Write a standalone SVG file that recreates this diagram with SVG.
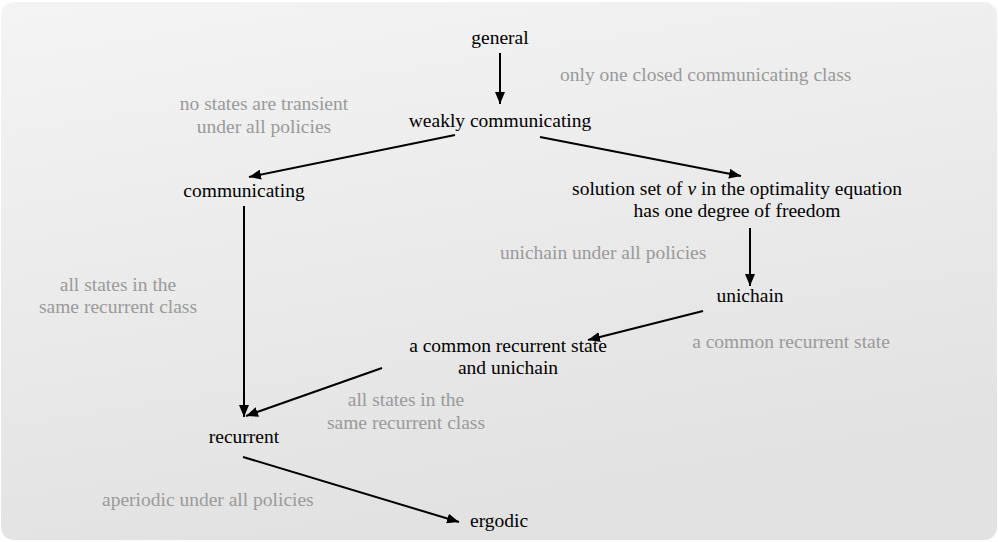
<svg xmlns="http://www.w3.org/2000/svg" width="998" height="542" viewBox="0 0 998 542" font-family="'Liberation Serif', 'Times New Roman', Times, 'DejaVu Serif', serif">
<defs>
<linearGradient id="bg" x1="0" y1="0" x2="0.3" y2="1">
<stop offset="0" stop-color="#f4f4f4"/>
<stop offset="1" stop-color="#e2e2e2"/>
</linearGradient>
<marker id="ah" viewBox="0 0 12 10" refX="12" refY="5" markerWidth="12" markerHeight="10" markerUnits="userSpaceOnUse" orient="auto">
<path d="M0,0 L12,5 L0,10 Z" fill="#000"/>
</marker>
<style>
text{font-size:19.5px}
.n{fill:#000}
.g{fill:#9a9a9a}
.c{text-anchor:middle}
.e{stroke:#000;stroke-width:2;fill:none;marker-end:url(#ah)}
</style>
</defs>
<rect x="1" y="2" width="996" height="538" rx="13" ry="13" fill="url(#bg)"/>
<g id="connectors">
<line class="e" x1="500" y1="53" x2="500" y2="104"/>
<line class="e" x1="455" y1="135" x2="249" y2="177"/>
<line class="e" x1="540" y1="137" x2="741" y2="176"/>
<line class="e" x1="244" y1="206" x2="244" y2="417"/>
<line class="e" x1="750" y1="228" x2="750" y2="286"/>
<line class="e" x1="703" y1="311" x2="588" y2="340"/>
<line class="e" x1="382" y1="368" x2="246" y2="416"/>
<line class="e" x1="243" y1="457" x2="459" y2="522"/>
</g>
<g id="labels">
<text class="g" x="560" y="81">only one closed communicating class</text>
<text class="g c" x="264" y="110">no states are transient</text>
<text class="g c" x="264" y="133">under all policies</text>
<text class="g c" x="118" y="291">all states in the</text>
<text class="g c" x="118" y="313">same recurrent class</text>
<text class="g" x="500" y="259">unichain under all policies</text>
<text class="g c" x="791" y="348">a common recurrent state</text>
<text class="g c" x="406" y="406">all states in the</text>
<text class="g c" x="406" y="429">same recurrent class</text>
<text class="g" x="102" y="506">aperiodic under all policies</text>
</g>
<g id="general"><text class="n c" x="500" y="44">general</text></g>
<g id="weakly"><text class="n c" x="500" y="127">weakly communicating</text></g>
<g id="communicating"><text class="n c" x="244" y="197">communicating</text></g>
<g id="solution"><text class="n c" x="737" y="195">solution set of <tspan font-style="italic">v</tspan> in the optimality equation</text><text class="n c" x="737" y="217">has one degree of freedom</text></g>
<g id="unichain"><text class="n c" x="750" y="302">unichain</text></g>
<g id="common"><text class="n c" x="508" y="352">a common recurrent state</text><text class="n c" x="508" y="374">and unichain</text></g>
<g id="recurrent"><text class="n c" x="244" y="443">recurrent</text></g>
<g id="ergodic"><text class="n" x="470" y="527">ergodic</text></g>
</svg>
